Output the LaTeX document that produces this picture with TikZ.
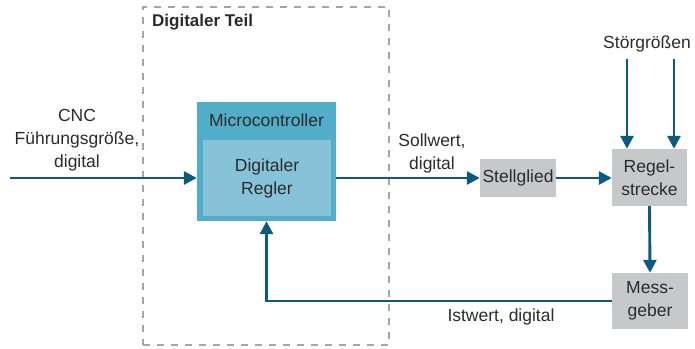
\documentclass[tikz,border=0pt]{standalone}
\usepackage{fontspec}
\setmainfont{Liberation Sans}
\usetikzlibrary{arrows.meta}
\definecolor{arrowc}{HTML}{0B5B80}
\definecolor{mcouter}{HTML}{52AEC8}
\definecolor{mcinner}{HTML}{87C3D8}
\definecolor{boxgray}{HTML}{C7C8CA}
\definecolor{dashgray}{HTML}{A3A5A8}
\definecolor{txt}{HTML}{2B2B2B}
\begin{document}
\begin{tikzpicture}[x=1pt,y=-1pt,
  every node/.style={font=\fontsize{17.5}{23}\selectfont, text=txt, inner sep=0pt, align=center},
  flow/.style={draw=arrowc, line width=2.9pt, -{Triangle[length=13pt,width=13pt]}},
  teilbox/.style={draw=dashgray, line width=1.1pt, dash pattern=on 7pt off 7pt}
]
\useasboundingbox (0,0) rectangle (695,348);
% dashed frame
\node[teilbox, minimum width=246pt, minimum height=338pt] (teil) at (266,176) {};
\node[anchor=west, font=\bfseries\fontsize{17}{23}\selectfont] (teillbl) at (152,22) {Digitaler Teil};
% microcontroller
\node[fill=mcouter, minimum width=139pt, minimum height=119pt] (mc) at (266.5,161.5) {};
\node (mclbl) at (266.5,120) {Microcontroller};
\node[fill=mcinner, minimum width=128pt, minimum height=76pt] (regler) at (267,178) {Digitaler\\Regler};
% blocks
\node[fill=boxgray, minimum width=76pt, minimum height=38pt] (stell) at (518,178) {Stellglied};
\node[fill=boxgray, minimum width=75pt, minimum height=57pt] (strecke) at (649.5,177.5) {Regel-\\strecke};
\node[fill=boxgray, minimum width=76pt, minimum height=56pt] (mess) at (650,301) {Mess-\\geber};
% labels
\node (cnc) at (77,140) {CNC\\Führungsgröße,\\digital};
\node (soll) at (432,153) {Sollwert,\\digital};
\node (stoer) at (647,44) {Störgrößen};
\node (ist) at (501,317) {Istwert, digital};
% coordinates
\coordinate (in) at (10,178);
\coordinate (s1) at (627,59);
\coordinate (s2) at (674,59);
% connectors
\draw[flow] (in) -- (in -| mc.west);
\draw[flow] (mc.east |- stell) -- (stell.west);
\draw[flow] (stell.east) -- (stell -| strecke.west);
\draw[flow] (s1) -- (s1 |- strecke.north);
\draw[flow] (s2) -- (s2 |- strecke.north);
\draw[flow] (strecke.south) -- (mess.north);
\draw[flow] (mess.west) -| (mc.south);
\end{tikzpicture}
\end{document}
